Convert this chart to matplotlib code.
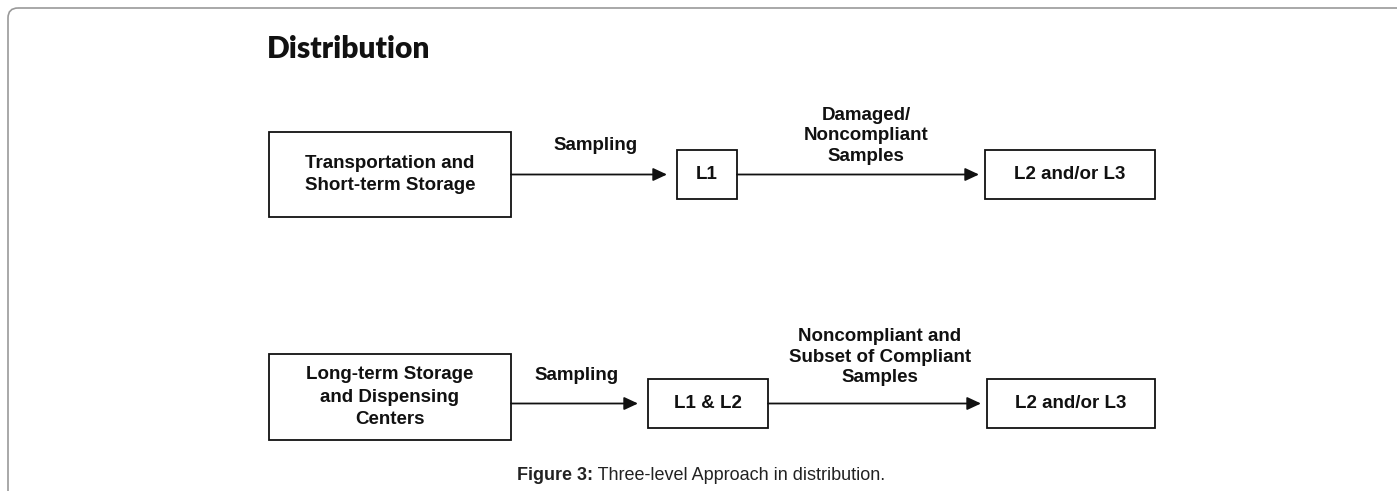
"""
Three-level approach in distribution: flow diagram redrawn with matplotlib.
"""

import matplotlib
matplotlib.use("Agg")
import matplotlib.pyplot as plt
from matplotlib.patches import Rectangle, FancyBboxPatch

# ── Diagram content ───────────────────────────────────────────────────────────

TITLE = "Distribution"
SOURCES = ["Transportation and\nShort-term Storage",
           "Long-term Storage\nand Dispensing\nCenters"]
SAMPLING = ["Sampling", "Sampling"]
FIRST_LEVEL = ["L1", "L1 & L2"]
ESCALATION = ["Damaged/\nNoncompliant\nSamples",
              "Noncompliant and\nSubset of Compliant\nSamples"]
FINAL = ["L2 and/or L3", "L2 and/or L3"]
CAPTION_BOLD = "Figure 3:"
CAPTION_TEXT = " Three-level Approach in distribution."

# ── Layout (pixel coordinates, y grows downward) ──────────────────────────────

W, H = 1397, 491
# per row: (left, right, top, bottom) of each box
SRC_BOX = [(269, 511, 132, 217), (269, 511, 354, 440)]
L1_BOX = [(677, 737, 150, 199), (648, 768, 379, 428)]
FIN_BOX = [(985, 1155, 150, 199), (987, 1155, 379, 428)]
SAMPLING_POS = [(596, 146), (577, 376)]
ESC_POS = [(866, 136), (880, 357)]

FONT = ["Liberation Sans", "DejaVu Sans"]
INK = "#111111"

fig = plt.figure(figsize=(W / 100, H / 100), dpi=100)
ax = fig.add_axes([0, 0, 1, 1])
ax.set_xlim(0, W)
ax.set_ylim(H, 0)
ax.axis("off")

# outer frame: rounded top-left corner, runs off the right and bottom edges
ax.add_patch(FancyBboxPatch((8, 8), 1600, 800,
                            boxstyle="round,pad=0,rounding_size=10",
                            fc="none", ec="#9a9a9a", lw=1.2))

ax.text(267, 58, TITLE, ha="left", va="baseline", fontsize=21.5,
        fontweight="heavy", family=["Lato", "Liberation Sans", "DejaVu Sans"],
        color=INK)


def box(b, label):
    l, r, t, btm = b
    ax.add_patch(Rectangle((l, t), r - l, btm - t, fc="white", ec=INK, lw=1.3))
    ax.text((l + r) / 2, (t + btm) / 2, label, ha="center", va="center",
            fontsize=13.5, fontweight="bold", family=FONT, color=INK,
            linespacing=1.4, multialignment="center")


def arrow(x0, x1, y):
    ax.annotate("", xy=(x1, y), xytext=(x0, y),
                arrowprops=dict(arrowstyle="-|>,head_length=0.6,head_width=0.28",
                                color=INK, lw=1.3, shrinkA=0, shrinkB=0,
                                mutation_scale=14))


for i in range(2):
    box(SRC_BOX[i], SOURCES[i])
    box(L1_BOX[i], FIRST_LEVEL[i])
    box(FIN_BOX[i], FINAL[i])

    y = (L1_BOX[i][2] + L1_BOX[i][3]) / 2
    arrow(SRC_BOX[i][1], L1_BOX[i][0] - 10, y)
    arrow(L1_BOX[i][1], FIN_BOX[i][0] - 6, y)

    sx, sy = SAMPLING_POS[i]
    ax.text(sx, sy, SAMPLING[i], ha="center", va="center", fontsize=13.5,
            fontweight="bold", family=FONT, color=INK)
    ex, ey = ESC_POS[i]
    ax.text(ex, ey, ESCALATION[i], ha="center", va="center", fontsize=13.5,
            fontweight="bold", family=FONT, color=INK, linespacing=1.25,
            multialignment="center")

# caption: bold lead-in followed by regular text
cap = ax.text(517, 480, CAPTION_BOLD, ha="left", va="baseline", fontsize=13,
              fontweight="bold", family=FONT, color="#222222")
renderer = fig.canvas.get_renderer()
bb = cap.get_window_extent(renderer)
ax.text(bb.x1 / fig.dpi * 100, 480, CAPTION_TEXT, ha="left", va="baseline",
        fontsize=13, family=FONT, color="#222222")

fig.savefig("out.png", dpi=100, facecolor="white")
